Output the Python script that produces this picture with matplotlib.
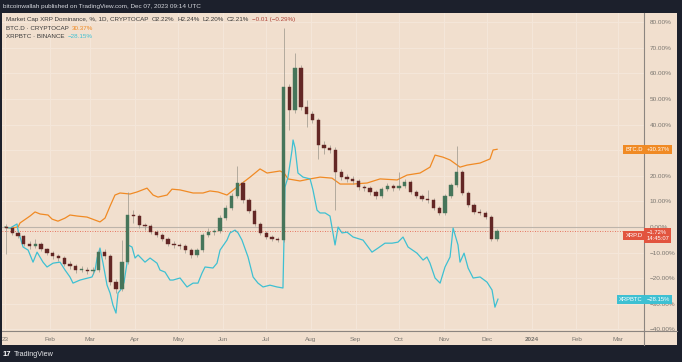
import numpy as np
import matplotlib
matplotlib.use("Agg")
import matplotlib.pyplot as plt
from matplotlib.patches import Rectangle
from matplotlib.lines import Line2D
import matplotlib.transforms as mtransforms

plt.rcParams['font.family'] = ['Liberation Sans', 'DejaVu Sans']

# ---
# DATA  (percent change since start, days counted from Jan 1 2023)
# ---
# XRP.D candles, one every 4 days
xrpd_days = np.arange(1, 342, 4)
xrpd_first_open = 0.0
xrpd_close = [-0.4, -2.3, -3.5, -6.6, -7.4, -6.6, -8.6, -10.0, -11.5, -12.1,
              -14.3, -15.4, -16.8, -16.6, -17.2, -16.8, -9.8, -11.3, -21.5, -24.2,
              -13.7, 4.7, 4.3, 0.8, 0.4, -2.0, -3.1, -4.7, -6.6, -7.0,
              -7.4, -9.0, -10.9, -9.0, -3.1, -2.0, -1.6, 3.5, 7.4, 12.1,
              17.2, 10.5, 6.3, 1.2, -2.3, -3.9, -4.7, -5.1, 54.7, 45.7,
              62.1, 46.9, 44.1, 41.8, 32.0, 30.9, 30.1, 21.5, 19.5, 18.8,
              18.0, 15.6, 15.2, 13.7, 12.1, 14.8, 16.0, 15.2, 16.0, 17.6,
              13.7, 12.1, 10.9, 10.5, 7.4, 5.5, 12.1, 16.4, 21.5, 13.3,
              8.6, 5.9, 5.5, 3.9, -4.7, -1.72]
xrpd_high = [1.2, 0.5, -1.5, -3.0, -5.5, -4.7, -5.9, -8.0, -9.4, -10.5,
             -11.3, -13.3, -14.5, -15.2, -15.6, -15.6, -8.6, -8.6, -10.5, -20.3,
             -5.1, 13.7, 6.6, 5.1, 1.6, 1.2, -1.2, -2.3, -3.9, -5.5,
             -6.2, -6.6, -8.2, -8.2, -2.3, -0.4, -0.8, 4.7, 8.6, 13.3,
             24.0, 18.0, 11.3, 7.0, 2.0, -1.6, -3.1, -3.9, 77.7, 56.0,
             68.0, 63.3, 49.6, 45.3, 42.6, 33.6, 32.0, 31.3, 22.7, 20.7,
             19.9, 18.8, 16.4, 16.0, 14.5, 15.6, 17.2, 16.8, 21.5, 18.8,
             18.4, 14.5, 12.9, 14.5, 11.3, 8.2, 12.9, 17.2, 31.6, 22.3,
             14.1, 9.4, 7.0, 6.3, 4.7, -0.8]
xrpd_low = [-10.5, -3.0, -4.3, -7.4, -8.6, -8.2, -9.4, -11.0, -12.5, -13.3,
            -15.2, -16.4, -18.0, -17.6, -18.4, -18.4, -17.6, -12.5, -22.7, -25.8,
            -25.0, -14.5, 1.5, -0.4, -1.2, -2.7, -3.9, -5.5, -7.4, -8.2,
            -8.6, -10.2, -12.1, -11.7, -9.8, -3.9, -3.1, -2.3, 2.7, 6.6,
            11.3, 9.4, 5.5, 0.4, -3.1, -4.7, -5.5, -5.9, -5.9, 38.0,
            44.5, 45.7, 39.0, 40.6, 26.5, 28.5, 29.0, 6.6, 18.4, 17.6,
            16.8, 14.5, 14.1, 12.5, 10.9, 11.3, 14.1, 14.1, 14.5, 15.2,
            12.9, 11.3, 10.2, 9.4, 6.6, 4.7, 4.7, 11.3, 15.6, 12.5,
            7.8, 5.1, 4.7, 3.1, -5.5, -5.5]

# BTC.D line
btcd_days = [0, 3.5, 9, 10.4, 17.3, 20.8, 24.3, 29.8, 32.6, 36.7, 41.6, 45, 50,
             56.8, 65.8, 69.3, 72.8, 76.2, 79.7, 86.6, 91.5, 98.4, 102.6, 106,
             112.3, 115.7, 121.3, 130.3, 137.2, 142, 147.6, 153.8, 160.8, 169.8,
             176.7, 181.6, 190.6, 193.4, 196.1, 204.4, 211.4, 218.3, 226.6,
             232.2, 241.2, 250.9, 259.9, 271.7, 278.6, 287.6, 294.5, 298,
             303.5, 308.4, 315.3, 320.2, 329.2, 336.1, 338.2, 341]
btcd_vals = [0, -0.4, 0, 1.6, 4.3, 5.9, 5.1, 4.7, 3.1, 2.3, 3.5, 4.7, 4.3,
             3.9, 2.0, 3.5, 8.2, 12.5, 13.3, 12.9, 13.7, 15.2, 12.5, 11.7,
             12.5, 14.8, 14.5, 13.3, 13.3, 14.1, 13.7, 12.5, 15.6, 19.5,
             22.7, 21.1, 21.9, 21.1, 18.8, 18.0, 18.8, 19.5, 19.1,
             16.8, 16.8, 17.2, 18.8, 18.4, 20.3, 21.1, 23.4, 28.1,
             27.3, 26.2, 23.4, 24.2, 25.0, 26.6, 30.1, 30.37]

# XRPBTC line
xrpbtc_days = [0, 3.5, 8.3, 9, 12.5, 16, 19.4, 22.2, 26.3, 29.1, 33.3, 38.1,
               41.6, 45, 47.1, 52, 57.5, 60.3, 62.4, 63.8, 65.8, 67.9, 70.7,
               72.8, 74.8, 76.9, 78.3, 81.1, 82.5, 84.5, 85.2, 88, 90.1, 92.2,
               97, 100.5, 105.3, 107.4, 110.9, 114.3, 116.4, 121.3, 126.1,
               130.3, 133.7, 136.5, 138.6, 144.1, 146.9, 149, 153.8, 155.9,
               159.4, 161.5, 164.2, 168.4, 171.9, 175.3, 178.8, 183.6, 188.5,
               192.6, 193.3, 194, 196.1, 198.9, 199.6, 201, 203, 206.5, 211.4,
               213.4, 216.2, 218.3, 221.8, 225.2, 228.7, 230.8, 233.5, 237,
               241.2, 248.1, 254.3, 258.5, 263.3, 268.2, 272.3, 275.8, 279.3,
               285.5, 289.7, 292.4, 294.5, 298, 301.5, 304.9, 308.4, 310.5,
               313.9, 315.3, 318.1, 320.9, 324.4, 329.2, 334, 337.5, 339.5, 341.6]
xrpbtc_vals = [0, -0.4, 1.2, -1.2, -7.8, -9.0, -13.7, -9.8, -13.7, -15.6, -14.1, -13.7,
               -16.8, -19.5, -21.9, -20.7, -19.9, -19.5, -16.8, -12.1, -8.2, -14.1, -22.7,
               -25.8, -30.5, -33.6, -25.8, -23.8, -21.5, -14.1, -7.0, -7.8, -12.1, -10.9,
               -13.7, -12.1, -14.1, -16.8, -17.6, -20.7, -20.7, -19.9, -23.4,
               -21.9, -21.9, -18.0, -15.6, -16.0, -14.1, -9.0, -5.1, -2.3,
               -1.2, -2.3, -5.1, -11.7, -19.5, -21.9, -23.4, -22.7, -23.4,
               -23.8, -5.1, 15.6, 19.5, 30.1, 34.0, 30.9, 21.1, 19.5, 18.8,
               14.5, 6.6, 5.5, 5.5, 4.3, -7.0, 0.0, -2.3, -2.0,
               -3.9, -5.1, -9.8, -8.2, -6.3, -6.3, -5.9, -3.9, -7.8,
               -10.2, -12.9, -11.7, -14.1, -19.9, -21.9, -15.6, -11.7, -0.4,
               -7.0, -13.7, -10.2, -16.0, -19.9, -19.5, -21.5, -24.6, -31.3, -28.15]

month_days = [0, 31, 59, 90, 120, 151, 181, 212, 243, 273, 304, 334, 365, 396, 425]
month_labels = ['23', 'Feb', 'Mar', 'Apr', 'May', 'Jun', 'Jul', 'Aug', 'Sep',
                'Oct', 'Nov', 'Dec', '2024', 'Feb', 'Mar']
y_ticks = list(range(-40, 81, 10))

# ---
# STYLE
# ---
BG = '#f1dfce'
DARK = '#1c202c'
GRID = '#f5e7da'
AXC = '#8c8580'
TXT = '#3a3a3a'
ORANGE = '#f08a24'
CYAN = '#3ec0d2'
RED = '#e2543f'
UP = '#46755a'
DOWN = '#632725'
WICK = '#9a958a'

W, H = 682, 362
fx = lambda px: px / W
fy = lambda py: 1 - py / H

fig = plt.figure(figsize=(W / 100, H / 100), dpi=100)
fig.patch.set_facecolor(DARK)
fig.add_artist(Rectangle((fx(2), fy(345)), fx(677) - fx(2), fy(13) - fy(345),
                         transform=fig.transFigure, facecolor=BG, edgecolor='none', zorder=0))

ax = fig.add_axes([fx(2), fy(331), fx(644) - fx(2), fy(13) - fy(331)])
ax.set_facecolor(BG)
ax.set_xlim(-2.1, 442.8)
ax.set_ylim(-40.6, 83.6)

for s in ['top', 'left']:
    ax.spines[s].set_visible(False)
for s in ['right', 'bottom']:
    ax.spines[s].set_color(AXC)
    ax.spines[s].set_linewidth(0.8)
fig.add_artist(Line2D([fx(644), fx(644)], [fy(331), fy(345)], color=AXC, lw=0.8))
fig.add_artist(Line2D([fx(644), fx(677)], [fy(331), fy(331)], color=AXC, lw=0.8))

# tick labels; the 30% one sits under the BTC.D tag in the reference
ax.yaxis.tick_right()
ax.set_yticks(y_ticks)
ax.set_yticklabels(['' if v == 30 else f"{v:.2f}%".replace('-', '\u2212') for v in y_ticks])
ax.set_xticks(month_days)
ax.set_xticklabels(month_labels)
ax.tick_params(axis='both', length=0, labelsize=4.6, colors='#7a7670')
ax.tick_params(axis='y', pad=4)
ax.tick_params(axis='x', pad=4)
for lbl in ax.get_xticklabels():
    if lbl.get_text() == '2024':
        lbl.set_fontweight('bold')
ax.grid(True, color=GRID, lw=0.7)
ax.set_axisbelow(True)

# zero and last-price lines
ax.axhline(0, color='#bdb4aa', lw=0.8, zorder=1)
ax.axhline(xrpd_close[-1], color=RED, lw=0.6, ls=(0, (1, 2)), zorder=1)

# lines
ax.plot(btcd_days, btcd_vals, color=ORANGE, lw=0.9, zorder=2)
ax.plot(xrpbtc_days, xrpbtc_vals, color=CYAN, lw=0.9, zorder=2)

# candles
opens = [xrpd_first_open] + xrpd_close[:-1]
ax.vlines(xrpd_days, xrpd_low, xrpd_high, color=WICK, lw=0.5, zorder=3)
for d, o, c in zip(xrpd_days, opens, xrpd_close):
    col = UP if c >= o else DOWN
    ax.bar(d, max(abs(c - o), 0.35), bottom=min(o, c), width=2.3,
           color=col, edgecolor=col, lw=0.3, zorder=4)

# right-side value labels
tr = mtransforms.blended_transform_factory(ax.transAxes, ax.transData)
x_in = 1 - 1.5 / 642
x_out = 1 + 2.5 / 642
def tag(y, name, value, color):
    ax.text(x_in, y, name, transform=tr, ha='right', va='center', fontsize=4.2,
            color='white', zorder=6, clip_on=False,
            bbox=dict(boxstyle='square,pad=0.35', fc=color, ec='none'))
    ax.text(x_out, y, value, transform=tr, ha='left', va='center', fontsize=4.2,
            color='white', zorder=6, clip_on=False, linespacing=1.2,
            bbox=dict(boxstyle='square,pad=0.35', fc=color, ec='none'))

tag(btcd_vals[-1], 'BTC.D', '+30.37%', ORANGE)
tag(xrpd_close[-1] - 1.5, 'XRP.D', '\u22121.72%\n14:45:07', RED)
tag(xrpbtc_vals[-1], 'XRPBTC', '\u221228.15%', CYAN)

# header / legend texts
renderer = fig.canvas.get_renderer()
def legend_line(py, parts):
    x = fx(6)
    for s, col in parts:
        t = fig.text(x, fy(py), s, color=col, fontsize=4.5, va='center', ha='left')
        bb = t.get_window_extent(renderer)
        x = (bb.x1 + 3) / W

fig.text(fx(3), fy(6.5), 'bitcoinwallah published on TradingView.com, Dec 07, 2023 09:14 UTC',
         color='#d6d8de', fontsize=4.6, va='center', ha='left')
legend_line(19.5, [('Market Cap XRP Dominance, %, 1D, CRYPTOCAP', TXT),
                   ('O2.22%', TXT), ('H2.24%', TXT), ('L2.20%', TXT), ('C2.21%', TXT),
                   ('\u22120.01 (\u22120.29%)', '#b0453a')])
legend_line(28, [('BTC.D \u00b7 CRYPTOCAP', TXT), ('30.37%', ORANGE)])
legend_line(36, [('XRPBTC \u00b7 BINANCE', TXT), ('\u221228.15%', CYAN)])

# footer
fig.text(fx(3), fy(354), '17', color='white', fontsize=5.5, fontweight='bold', va='center')
fig.text(fx(14), fy(354), 'TradingView', color='#e6e7ea', fontsize=5.2, va='center')

fig.savefig('out.png', dpi=100, facecolor=fig.get_facecolor())
